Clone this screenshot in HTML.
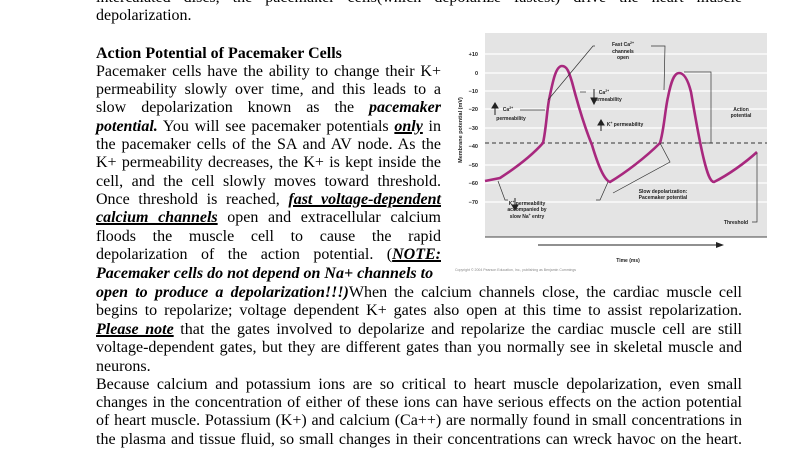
<!DOCTYPE html>
<html><head><meta charset="utf-8"><style>
body{margin:0;width:792px;height:462px;overflow:hidden;background:#fff;position:relative;font-family:"Liberation Serif",serif;font-size:16px;color:#000}
.l{position:absolute;left:96px;height:18px;line-height:18px;white-space:nowrap;text-align:justify;text-align-last:justify}
.n{width:345px}.w{width:646px}
.x{text-align-last:left}
u{text-decoration-thickness:2px}
</style></head><body>
<div class="l w" style="top:-11px">intercalated discs, the pacemaker cells(which depolarize fastest) drive the heart muscle</div>
<div class="l x" style="top:7px">depolarization.</div>
<div class="l x" style="top:45px;font-weight:bold">Action Potential of Pacemaker Cells</div>
<div class="l n" style="top:63px">Pacemaker cells have the ability to change their K+</div>
<div class="l n" style="top:81px">permeability slowly over time, and this leads to a</div>
<div class="l n" style="top:99px">slow depolarization known as the <b><i>pacemaker</i></b></div>
<div class="l n" style="top:118px"><b><i>potential.</i></b> You will see pacemaker potentials <b><i><u>only</u></i></b> in</div>
<div class="l n" style="top:136px">the pacemaker cells of the SA and AV node. As the</div>
<div class="l n" style="top:154px">K+ permeability decreases, the K+ is kept inside the</div>
<div class="l n" style="top:173px">cell, and the cell slowly moves toward threshold.</div>
<div class="l n" style="top:191px">Once threshold is reached, <b><i><u>fast voltage-dependent</u></i></b></div>
<div class="l n" style="top:209px"><b><i><u>calcium channels</u></i></b> open and extracellular calcium</div>
<div class="l n" style="top:228px">floods the muscle cell to cause the rapid</div>
<div class="l n" style="top:246px">depolarization of the action potential. (<b><i><u>NOTE:</u></i></b></div>
<div class="l x" style="top:265px;font-weight:bold;font-style:italic">Pacemaker cells do not depend on Na+ channels to</div>
<div class="l w" style="top:284px"><b><i>open to produce a depolarization!!!)</i></b>When the calcium channels close, the cardiac muscle cell</div>
<div class="l w" style="top:302px">begins to repolarize; voltage dependent K+ gates also open at this time to assist repolarization.</div>
<div class="l w" style="top:321px"><b><i><u>Please note</u></i></b> that the gates involved to depolarize and repolarize the cardiac muscle cell are still</div>
<div class="l w" style="top:339px">voltage-dependent gates, but they are different gates than you normally see in skeletal muscle and</div>
<div class="l x" style="top:358px">neurons.</div>
<div class="l w" style="top:376px">Because calcium and potassium ions are so critical to heart muscle depolarization, even small</div>
<div class="l w" style="top:394px">changes in the concentration of either of these ions can have serious effects on the action potential</div>
<div class="l w" style="top:412px">of heart muscle. Potassium (K+) and calcium (Ca++) are normally found in small concentrations in</div>
<div class="l w" style="top:431px">the plasma and tissue fluid, so small changes in their concentrations can wreck havoc on the heart.</div>

<svg style="position:absolute;left:0;top:0" width="792" height="462" font-family="Liberation Sans, sans-serif">
<rect x="485" y="33" width="282" height="204" fill="#e4e4e4"/>
<g stroke="#fff" stroke-width="1.2">
<line x1="485" x2="767" y1="54" y2="54"/><line x1="485" x2="767" y1="73" y2="73"/><line x1="485" x2="767" y1="91" y2="91"/><line x1="485" x2="767" y1="109" y2="109"/><line x1="485" x2="767" y1="128" y2="128"/><line x1="485" x2="767" y1="165" y2="165"/><line x1="485" x2="767" y1="183" y2="183"/><line x1="485" x2="767" y1="202" y2="202"/>
</g>
<line x1="485" y1="237" x2="767" y2="237" stroke="#444" stroke-width="1"/>
<g font-size="5.5" text-anchor="end" fill="#222" font-weight="bold">
<text x="478" y="56">+10</text><text x="478" y="75">0</text><text x="478" y="93">−10</text><text x="478" y="111">−20</text><text x="478" y="130">−30</text><text x="478" y="148">−40</text><text x="478" y="167">−50</text><text x="478" y="185">−60</text><text x="478" y="204">−70</text>
</g>
<text transform="translate(462,130) rotate(-90)" font-size="5.5" text-anchor="middle" fill="#222" font-weight="bold">Membrane potential (mV)</text>
<line x1="485" y1="143" x2="767" y2="143" stroke="#333" stroke-dasharray="4,3" stroke-width="0.9"/>
<path d="M485,181 L500,178 C520,165 535,152 543,143 C546,130 547,110 549,100 C553,80 556,66 562,66 C567,66 569,72 572,82 C578,105 585,128 592,145 C598,165 604,180 610,182 C625,173 645,158 660,143 C664,130 665,110 668,97 C671,82 674,73 679,73 C684,73 688,80 691,92 C695,115 699,140 704,160 C707,172 710,182 714,182 C728,175 745,163 757,152" fill="none" stroke="#a8287e" stroke-width="2.6"/>
<g stroke="#333" stroke-width="0.7" fill="none">
<polyline points="548,100 593,46 595,46"/><polyline points="651,46 665,46 664,90"/>
<polyline points="520,110 545,110"/>
<polyline points="580,92 586,92"/>
<polyline points="684,72 711,72 711,143 705,143"/>
<polyline points="498,181 505,200 508,200"/>
<polyline points="608,182 600,200 596,200"/>
<polyline points="660,143 670,162 613,193"/>
<polyline points="757,153 757,222 752,222"/>
</g>
<g font-size="5" fill="#222" text-anchor="middle" font-weight="bold">
<text x="623" y="46">Fast Ca<tspan dy="-2" font-size="3.5">2+</tspan></text><text x="623" y="53">channels</text><text x="623" y="59">open</text>
<text x="508" y="111">Ca<tspan dy="-2" font-size="3.5">2+</tspan></text><text x="511" y="120">permeability</text>
<text x="604" y="94">Ca<tspan dy="-2" font-size="3.5">2+</tspan></text><text x="607" y="101">permeability</text>
<text x="625" y="126">K<tspan dy="-2" font-size="3.5">+</tspan><tspan dy="2"> permeability</tspan></text>
<text x="741" y="111">Action</text><text x="741" y="117">potential</text>
<text x="663" y="193">Slow depolarization:</text><text x="663" y="199">Pacemaker potential</text>
<text x="527" y="205">K<tspan dy="-2" font-size="3.5">+</tspan><tspan dy="2"> permeability</tspan></text><text x="527" y="211">accompanied by</text><text x="527" y="218">slow Na<tspan dy="-2" font-size="3.5">+</tspan><tspan dy="2"> entry</tspan></text>
<text x="736" y="224">Threshold</text>
<text x="628" y="262">Time (ms)</text>
</g>
<g fill="#222" stroke="#222" stroke-width="1">
<line x1="495" y1="115" x2="495" y2="106"/><polygon points="492,108 498,108 495,103"/>
<line x1="594" y1="89" x2="594" y2="100"/><polygon points="591,98 597,98 594,104"/>
<line x1="601" y1="131" x2="601" y2="123"/><polygon points="598,125 604,125 601,120"/>
<line x1="515" y1="198" x2="515" y2="207"/><polygon points="512,205 518,205 515,210"/>
</g>
<line x1="538" y1="245" x2="718" y2="245" stroke="#222" stroke-width="1"/>
<polygon points="716,242 724,245 716,248" fill="#222"/>
<text x="455" y="271" font-size="3.5" fill="#888">Copyright © 2004 Pearson Education, Inc., publishing as Benjamin Cummings</text>
</svg>
</body></html>
